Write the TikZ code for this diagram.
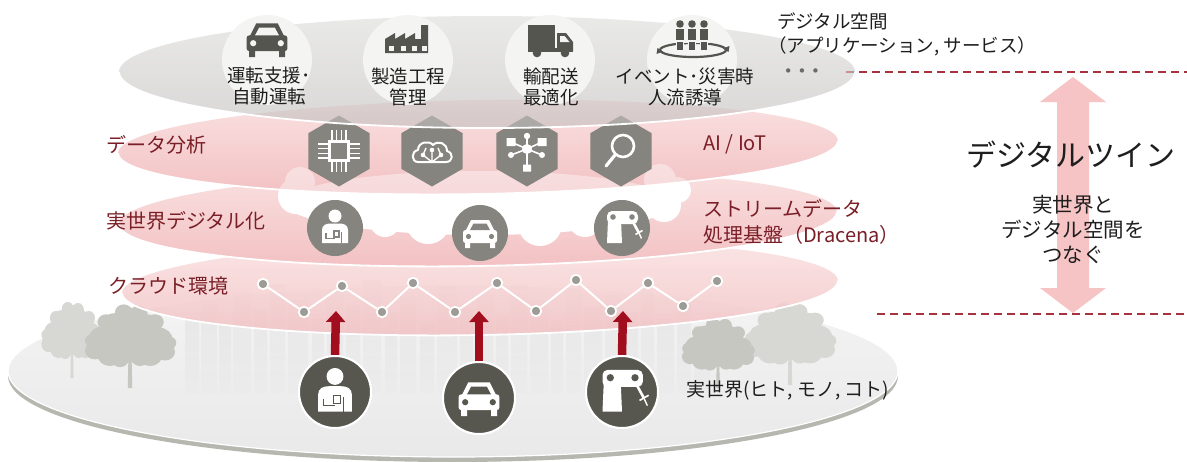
\documentclass[tikz,border=0pt]{standalone}
\usepackage{fontspec}
\newfontfamily\jpfont{Noto Sans CJK JP}
\newfontfamily\dejavu{DejaVu Sans}
\usetikzlibrary{arrows.meta,shapes.geometric}

\definecolor{labelred}{HTML}{7A1F27}
\definecolor{txtblack}{HTML}{1E1E1E}
\definecolor{dashred}{HTML}{A8323E}
\definecolor{arrowred}{HTML}{A10F1E}
\definecolor{twinpink}{HTML}{F6C4C4}
\definecolor{pinktop}{HTML}{FAE2E2}
\definecolor{pinkbot}{HTML}{F2C0C2}
\definecolor{greytop}{HTML}{DDDDDB}
\definecolor{greybot}{HTML}{C2BFBE}
\definecolor{groundtop}{HTML}{F4F4F4}
\definecolor{groundbot}{HTML}{E9E9E9}
\definecolor{groundrim}{HTML}{B6B7AF}
\definecolor{hexgrey}{HTML}{85847E}
\definecolor{darkicon}{HTML}{57564F}
\definecolor{appicon}{HTML}{55554F}
\definecolor{appdisc}{HTML}{F4F4F3}
\definecolor{treeA}{HTML}{D7D7D4}
\definecolor{treeB}{HTML}{C6C7C1}
\definecolor{netdotc}{HTML}{9C9B95}
\definecolor{bldgtop}{HTML}{DADADA}
\definecolor{dotsgrey}{HTML}{6A6A66}

\colorlet{icfg}{white}
\colorlet{icbg}{black}
\newcommand\iconcolours[2]{\colorlet{icfg}{#1}\colorlet{icbg}{#2}}

\tikzset{
  % passenger car, front view
  pics/caricon/.style={code={
    \fill[icfg] (-9,-13) -- (9,-13) -- (14.5,-2) -- (-14.5,-2) -- cycle;
    \fill[icfg, rounded corners=2.5pt] (-17,-3) rectangle (17,10);
    \fill[icfg] (-15,9) rectangle (-10,15) (10,9) rectangle (15,15);
    \fill[icbg] (-6.5,-9.5) -- (6.5,-9.5) -- (10,-3) -- (-10,-3) -- cycle;
    \fill[icbg] (-11.5,3.5) circle[radius=2.6pt] (11.5,3.5) circle[radius=2.6pt];
  }},
  % worker holding a device
  pics/personicon/.style={code={
    \fill[icfg] (0,-12) circle[radius=6.5pt];
    \fill[icfg] (-13,15) -- (-13,2) .. controls (-13,-3) and (-9,-4.5) .. (-4,-4.5)
      -- (4,-4.5) .. controls (9,-4.5) and (13,-3) .. (13,2) -- (13,15) -- cycle;
    \draw[icbg, line width=1.3pt] (-9,5) -- (-9,10.5) -- (0,10.5);
    \draw[icbg, line width=1.1pt] (-1,3) rectangle (4,9);
    \draw[icbg, line width=1.3pt] (6.5,4) -- (6.5,15);
  }},
  % industrial robot arm
  pics/roboticon/.style={code={
    \fill[icfg] (-15,15) -- (-14,-8) -- (-1,-8) -- (0,15) -- cycle;
    \fill[icfg, rounded corners=5pt] (-15,-17) rectangle (16,-4);
    \fill[icbg] (-9,-11) circle[radius=2.8pt] (10,-11) circle[radius=2.8pt];
    \draw[icfg, line width=2.6pt] (11,-6) -- (17,5);
    \draw[icfg, line width=1.6pt] (13.5,6.5) -- (20.5,2.5);
    \draw[icfg, line width=1.4pt] (17,5) -- (19.5,10.5);
  }},
  % processor chip
  pics/chipicon/.style={code={
    \draw[icfg, line width=2.2pt] (-9.5,-9.5) rectangle (9.5,9.5);
    \foreach \p in {-7,-2.4,2.4,7} {
      \draw[icfg, line width=1.5pt] (\p,-11) -- (\p,-21) (\p,11) -- (\p,21)
        (-11,\p) -- (-21,\p) (11,\p) -- (21,\p);
    }
  }},
  % cloud with neural links
  pics/braincloud/.style={code={
    \draw[icfg, line width=2pt, line join=round] (-14,9) -- (14,9)
      .. controls (21,9) and (22,0) .. (15,-2)
      .. controls (15,-10) and (6,-13) .. (1,-8)
      .. controls (-3,-13) and (-14,-11) .. (-14,-3)
      .. controls (-21,-2) and (-21,9) .. (-14,9) -- cycle;
    \draw[icfg, line width=1.4pt] (0,9) -- (-9,2) (0,9) -- (0,-3) (0,9) -- (9,2)
      (-9,2) -- (-6,-5) (9,2) -- (6,-5);
    \fill[icfg] (-9,2) circle[radius=2.3pt] (0,-3) circle[radius=2.3pt] (9,2) circle[radius=2.3pt];
  }},
  % hub-and-spoke network
  pics/hubicon/.style={code={
    \draw[icfg, line width=1.6pt] (0,-2) -- (0,-15) (0,-2) -- (-16,-9) (0,-2) -- (15,-9)
      (0,-2) -- (-16,4) (0,-2) -- (15,4) (0,-2) -- (0,17);
    \fill[icfg] (0,-2) circle[radius=5pt] (0,-15) circle[radius=3.2pt]
      (-16,4) circle[radius=3pt] (15,4) circle[radius=3pt];
    \fill[icfg] (-20.5,-13) rectangle (-11.5,-5) (10.5,-13) rectangle (19.5,-5)
      (-4,13.5) rectangle (4,20.5);
  }},
  % magnifying glass
  pics/searchicon/.style={code={
    \draw[icfg, line width=2.6pt] (2,-5) circle[radius=11pt];
    \draw[icfg, line width=3.2pt, line cap=round] (-6,4) -- (-15,15);
  }},
  % factory with chimney
  pics/factoryicon/.style={code={
    \fill[icfg] (-23,14) -- (-23,0) -- (-13,-6) -- (-13,0) -- (-3,-6) -- (-3,0) -- (7,-6)
      -- (7,0) -- (13,0) -- (13,-14) -- (20,-14) -- (20,14) -- cycle;
    \foreach \wx in {-19,-7.5,3.5,13.5} \fill[icbg] (\wx,7) rectangle (\wx+5,11.5);
  }},
  % delivery truck
  pics/truckicon/.style={code={
    \fill[icfg] (-24,-15) rectangle (3,8);
    \fill[icfg] (5,-7) -- (14,-7) -- (21,2) -- (21,11) -- (5,11) -- cycle;
    \fill[icbg] (8,-4) -- (12.5,-4) -- (17.5,2) -- (8,2) -- cycle;
    \fill[icfg] (-24,8) rectangle (21,11.5);
    \fill[icfg] (-15,13) circle[radius=4.3pt] (13,13) circle[radius=4.3pt];
  }},
  % crowd with circulating ring
  pics/crowdicon/.style={code={
    \draw[icfg, line width=2.2pt] (1,12) ellipse [x radius=33pt, y radius=7pt];
    \fill[icfg] (-34.5,10) -- (-29,13.5) -- (-35.5,16) -- cycle;
    \fill[icfg] (36.5,14) -- (31,10.5) -- (37.5,8) -- cycle;
    \foreach \px in {-12,0,12} {
      \filldraw[icfg, draw=icbg, line width=1.4pt] (\px-5,-9.5) rectangle (\px+5,4);
      \filldraw[icfg, draw=icbg, line width=1.4pt] (\px-3.6,3) rectangle (\px+3.6,13);
      \fill[icfg] (\px,-14) circle[radius=3.8pt];
    }
  }},
  % white cloud between the streaming and analysis layers
  pics/cloudblob/.style={code={
    \fill (480,203) ellipse [x radius=195pt, y radius=32pt]
      (296,196) circle[radius=18pt] (338,212) circle[radius=19pt] (385,222) circle[radius=15pt]
      (428,222) circle[radius=22pt] (480,225) circle[radius=22pt] (540,224) circle[radius=22pt]
      (585,220) circle[radius=17pt] (628,212) circle[radius=18pt] (664,205) circle[radius=17pt]
      (678,190) circle[radius=13pt] (300,182) circle[radius=15pt] (660,180) circle[radius=16pt];
  }},
  % tree silhouette, trunk foot at the origin
  pics/treeshape/.style={code={
    \fill (-1.8,0) -- (-1.2,-32) -- (1.2,-32) -- (1.8,0) -- cycle;
    \fill (0,-60) circle[radius=13pt] (-12,-56) circle[radius=12pt] (13,-55) circle[radius=12pt]
      (-22,-45) circle[radius=11pt] (23,-44) circle[radius=11pt] (-28,-34) circle[radius=8pt]
      (28,-33) circle[radius=8pt] (-16,-30) circle[radius=10pt] (16,-30) circle[radius=10pt]
      (0,-40) circle[radius=17pt] (-5,-69) circle[radius=7pt] (7,-68) circle[radius=7pt]
      (-19,-60) circle[radius=7pt] (20,-60) circle[radius=7pt] (-30,-43) circle[radius=6pt]
      (31,-41) circle[radius=6pt] (-8,-26) circle[radius=7pt] (8,-27) circle[radius=7pt];
  }},
}

\begin{document}
\begin{tikzpicture}[x=1pt,y=-1pt,
  every node/.style={inner sep=0pt},
  rim/.style={draw=white, line width=1.8pt},
  lbl/.style={font=\jpfont\fontsize{20}{26}\selectfont, text=labelred, anchor=west, align=left},
  apptxt/.style={font=\jpfont\fontsize{18.5}{21}\selectfont, text=txtblack, align=center},
  sidetxt/.style={font=\jpfont\fontsize{18.5}{24}\selectfont, text=txtblack, anchor=west},
  discnode/.style={circle, minimum size=90pt, fill=appdisc},
  hexnode/.style={regular polygon, regular polygon sides=6, shape border rotate=30,
    minimum size=71pt, fill=hexgrey},
  midnode/.style={circle, minimum size=56pt, fill=hexgrey},
  realnode/.style={circle, minimum size=72pt, fill=darkicon, draw=white, line width=2pt},
  netdot/.style={circle, minimum size=10.5pt, fill=netdotc, draw=white, line width=1.8pt},
  netline/.style={white, line width=2pt},
  uparrow/.style={arrowred, line width=8.5pt, -{Triangle[width=19pt,length=11pt]}},
  twindash/.style={dashred, line width=1.6pt, dash pattern=on 8pt off 5pt},
]
\fill[white] (0,0) rectangle (1187,461);
\useasboundingbox (0,0) rectangle (1187,461);

% ---- digital twin marker on the right ----
\fill[twinpink] (1073,77) -- (1106,102) -- (1089,102) -- (1089,288) -- (1106,288)
  -- (1073,313) -- (1040,288) -- (1057,288) -- (1057,102) -- (1040,102) -- cycle;
\coordinate (dtl) at (846,72);  \coordinate (dtr) at (1187,72);
\coordinate (dbl) at (877,314); \coordinate (dbr) at (1187,314);
\draw[twindash] (dtl) -- (dtr);
\draw[twindash] (dbl) -- (dbr);
\node[font=\jpfont\fontsize{30}{34}\selectfont, text=txtblack, anchor=west] (twin) at (966,155) {デジタルツイン};
\node[font=\jpfont\fontsize{20.5}{25}\selectfont, text=txtblack, align=center] (link) at (1073,230)
  {実世界と\\デジタル空間を\\つなぐ};

% ---- real world ground disc ----
\fill[groundrim] (453,376) ellipse [x radius=445pt, y radius=86pt];
\shadedraw[top color=groundtop, bottom color=groundbot, draw=white, line width=1.2pt]
  (453,371) ellipse [x radius=445pt, y radius=86pt];
% city skyline
\foreach \bx/\bt/\bw in {185/318/14, 201/300/16, 219/325/12, 233/292/18, 254/310/13,
    270/284/15, 288/300/20, 312/318/12, 327/290/16, 346/305/14, 363/280/18, 385/312/12,
    400/296/16, 420/322/14, 437/286/20, 460/308/13, 476/294/17, 496/316/12, 511/285/16,
    530/300/18, 551/320/12, 566/288/15, 584/306/18, 605/295/14, 622/312/16, 641/290/13,
    657/318/17, 677/302/14, 694/326/16}
  \shade[top color=bldgtop, bottom color=groundbot, fill opacity=0.4]
    (\bx,\bt) rectangle (\bx+\bw,392);
% trees
\pic[fill=treeA, xscale=0.85] at (72,378) {treeshape};
\pic[fill=treeB, xscale=1.25, yscale=1.1] at (130,388) {treeshape};
\pic[fill=treeA, xscale=1.25, yscale=1.08] at (790,385) {treeshape};
\pic[fill=treeB, yscale=0.92] at (718,388) {treeshape};

% ---- cloud environment layer ----
\shade[top color=pinktop, bottom color=pinkbot, fill opacity=0.84, rotate around={1:(480,287)}]
  (480,287) ellipse [x radius=358pt, y radius=48pt];
\draw[rim, rotate around={1:(480,287)}]
  (122,287) arc [start angle=180, end angle=360, x radius=358pt, y radius=48pt];
% network zig-zag
\foreach \i/\nx/\ny in {1/263/284, 2/304/312, 3/342/286, 4/382/312, 5/413/283, 6/455/312,
    7/497/283, 8/536/311, 9/576/280, 10/611/311, 11/648/283, 12/683/306, 13/717/281}
  \node[netdot] (n\i) at (\nx,\ny) {};
\foreach \a/\b in {1/2, 2/3, 3/4, 4/5, 5/6, 6/7, 7/8, 8/9, 9/10, 10/11, 11/12, 12/13}
  \draw[netline] (n\a) -- (n\b);

% ---- stream processing layer ----
\shade[top color=pinktop, bottom color=pinkbot, rotate around={1:(478,218)}]
  (478,218) ellipse [x radius=359pt, y radius=48pt];
\draw[rim, rotate around={1:(478,218)}]
  (119,218) arc [start angle=180, end angle=360, x radius=359pt, y radius=48pt];
\pic[fill=white] at (0,0) {cloudblob};
\node[midnode] (m1) at (335,228) {};
\node[midnode] (m2) at (480,233) {};
\node[midnode] (m3) at (622,228) {};
\iconcolours{white}{hexgrey}
\pic at (m1) {personicon};
\pic at (m2) {caricon};
\pic at (m3) {roboticon};

% ---- data analysis layer ----
\shade[top color=pinktop, bottom color=pinkbot, rotate around={1:(478,147)}]
  (478,147) ellipse [x radius=360pt, y radius=47pt];
\begin{scope}
  \clip[rotate around={1:(478,147)}] (478,147) ellipse [x radius=360pt, y radius=47pt];
  \pic[fill=white, fill opacity=0.4] at (0,0) {cloudblob};
\end{scope}
\draw[rim, rotate around={1:(478,147)}]
  (118,147) arc [start angle=180, end angle=360, x radius=360pt, y radius=47pt];
\node[hexnode] (h1) at (339,151) {};
\node[hexnode] (h2) at (432,151) {};
\node[hexnode] (h3) at (527,151) {};
\node[hexnode] (h4) at (621,151) {};
\pic at (h1) {chipicon};
\pic at ([yshift=-2pt]h2) {braincloud};
\pic at (h3) {hubicon};
\pic at (h4) {searchicon};

% ---- application layer ----
\shade[top color=greytop, bottom color=greybot, fill opacity=0.62]
  (487,72) ellipse [x radius=368pt, y radius=56pt];
\draw[rim] (119,72) arc [start angle=180, end angle=360, x radius=368pt, y radius=56pt];
\node[discnode] (a1) at (267,60) {};
\node[discnode] (a2) at (408,60) {};
\node[discnode] (a3) at (550,60) {};
\node[discnode] (a4) at (692,60) {};
\iconcolours{appicon}{appdisc}
\pic[scale=1.2] at (267,39) {caricon};
\pic at (408,39) {factoryicon};
\pic at (552,40) {truckicon};
\pic at (692,38) {crowdicon};
\node[apptxt] (t1) at (269,86.5) {運転支援･\\自動運転};
\node[apptxt] (t2) at (408,86.5) {製造工程\\管理};
\node[apptxt] (t3) at (551,86.5) {輸配送\\最適化};
\node[apptxt] (t4) at (685,86.5) {イベント･災害時\\人流誘導};
\node[sidetxt] (dsp) at (777,21) {デジタル空間};
\node[sidetxt] (dspsub) at (768,46) {（アプリケーション, サービス）};
\node[font=\dejavu\fontsize{15}{15}\selectfont, text=dotsgrey] (more) at (802,73) {• • •};

% ---- real-world things feeding the platform ----
\coordinate (up1) at (336,311);
\coordinate (up2) at (479,311);
\coordinate (up3) at (623,311);
\node[realnode] (r1) at (335,392) {};
\node[realnode] (r2) at (479,398) {};
\node[realnode] (r3) at (622,392) {};
\draw[uparrow] (r1.north) -- (up1);
\draw[uparrow] (r2.north) -- (up2);
\draw[uparrow] (r3.north) -- (up3);
\node[realnode] at (r1) {};
\node[realnode] at (r2) {};
\node[realnode] at (r3) {};
\iconcolours{white}{darkicon}
\pic[scale=1.3] at (r1) {personicon};
\pic[scale=1.2] at (r2) {caricon};
\pic[scale=1.3] at (r3) {roboticon};
\node[font=\jpfont\fontsize{19}{22}\selectfont, text=txtblack, anchor=west] (real) at (686,390)
  {実世界(ヒト, モノ, コト)};

% ---- layer labels ----
\node[lbl] (lab1) at (106,145) {データ分析};
\node[lbl] (lab2) at (106,221) {実世界デジタル化};
\node[lbl] (lab3) at (108,286) {クラウド環境};
\node[lbl] (lab4) at (703,144) {AI / IoT};
\node[lbl] (lab5) at (703,222) {ストリームデータ\\処理基盤（Dracena）};
\end{tikzpicture}
\end{document}
